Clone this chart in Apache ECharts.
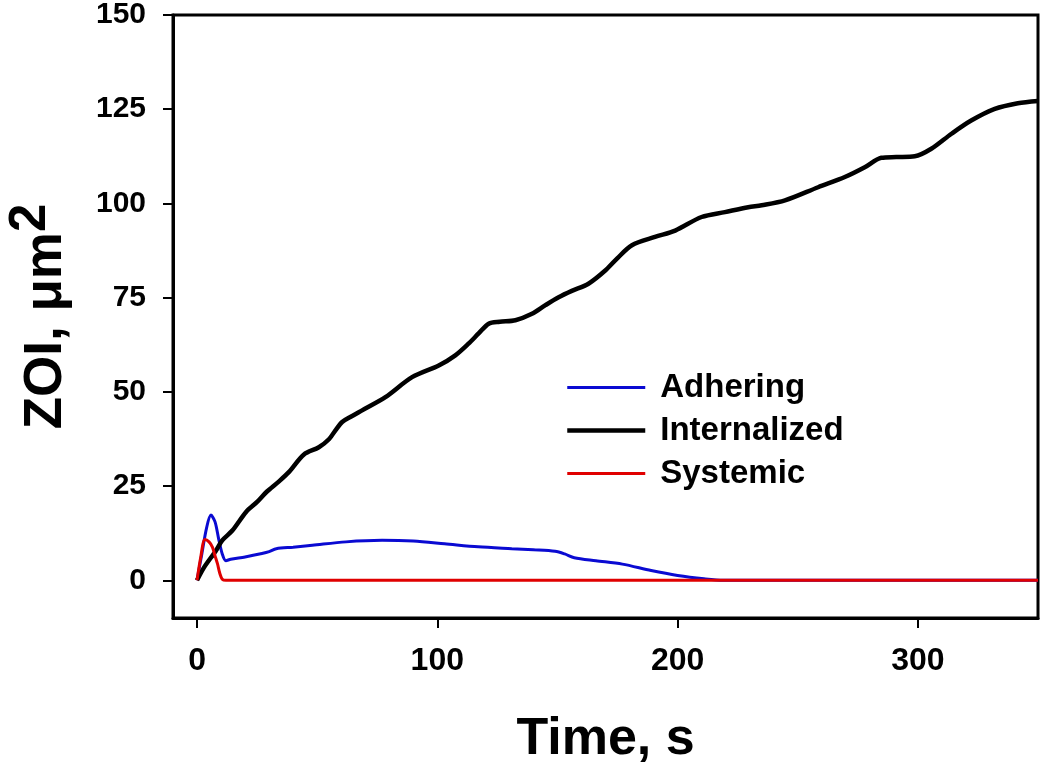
<!DOCTYPE html>
<html>
<head>
<meta charset="utf-8">
<script src="https://cdn.jsdelivr.net/npm/echarts@6/dist/echarts.min.js"></script>
<style>html,body{margin:0;padding:0;background:#fff;}#chart{width:1050px;height:769px;}</style>
</head>
<body>
<div id="chart"></div>
<script>
// ---- data ----
const xTicks = [0, 100, 200, 300];
const yTicks = [0, 25, 50, 75, 100, 125, 150];

const internalizedT = [0, 3, 7.8, 10.5, 14.7, 20.5, 25, 29, 34, 38.2, 44.5, 50.7, 55, 57.6, 60.4, 64, 68.7, 78.4, 89.5, 100.6, 107.5, 113, 117.2, 121.4, 126, 132.5, 139.4, 145, 150.5, 156, 162.9, 169.9, 175, 181, 190.6, 199, 210, 219.7, 229.4, 235, 244.7, 258.5, 269.6, 277.9, 284.8, 291, 298.7, 305.6, 314, 322.2, 332, 341.6, 350];
const internalizedV = [0, 3.5, 7.8, 10.6, 13.2, 18.2, 20.8, 23.5, 26.2, 28.7, 33.4, 35.3, 37.5, 39.8, 42, 43.4, 45.1, 48.6, 53.9, 57, 59.7, 62.8, 65.5, 68.1, 68.6, 69, 70.7, 73, 75.1, 76.8, 78.7, 82.2, 85.5, 88.9, 91.1, 92.8, 96.4, 97.7, 99, 99.5, 100.8, 104.3, 107, 109.6, 112.1, 112.3, 112.5, 114.5, 118.5, 122, 125.1, 126.6, 127.2];

const adheringT = [0, 2, 4, 5.8, 7.5, 9, 10.5, 12, 14, 20, 27, 30, 33, 40, 48, 62, 77, 90, 103, 117, 131, 140, 149, 153, 157, 166, 177, 189, 200, 211, 219, 230, 350];
const adheringV = [0, 7, 14, 17.3, 15.5, 11, 7, 5.2, 5.6, 6.2, 7.1, 7.6, 8.4, 8.8, 9.3, 10.2, 10.6, 10.4, 9.7, 8.9, 8.4, 8.1, 7.7, 7.0, 6.0, 5.2, 4.3, 2.6, 1.3, 0.4, 0, 0, 0];

const systemicT = [0, 1.5, 3.3, 5, 6.4, 7.5, 8.5, 9.5, 10.5, 12, 350];
const systemicV = [0, 6, 10.8, 10.2, 8.8, 6.5, 4.4, 1.8, 0.3, 0, 0];

const seriesNames = ['Adhering', 'Internalized', 'Systemic'];

function pairs(t, v) { return t.map((x, i) => [x, v[i]]); }

const colors = {Adhering: '#0a0ad2', Internalized: '#000000', Systemic: '#e00000'};
const widths = {Adhering: 3, Internalized: 4.5, Systemic: 3};

const chart = echarts.init(document.getElementById('chart'), null, {renderer: 'canvas'});
const axisFont = 'Liberation Sans, Arial, sans-serif';
chart.setOption({
  animation: false,
  backgroundColor: '#fff',
  grid: {left: 173, right: 12, top: 15, bottom: 151, outerBoundsMode: 'none', containLabel: false, show: true, borderColor: '#000', borderWidth: 3, backgroundColor: 'transparent'},
  legend: {
    left: 560, top: 366, orient: 'vertical',
    itemWidth: 78, itemHeight: 14, itemGap: 10,
    itemStyle: {opacity: 0},
    textStyle: {fontFamily: axisFont, fontWeight: 'bold', fontSize: 33, color: '#000', lineHeight: 33, padding: [0, 0, 0, 10]},
    data: seriesNames.map(n => ({name: n, itemStyle: {opacity: 0}, lineStyle: {color: colors[n], width: widths[n]}}))
  },
  xAxis: {
    type: 'value', min: -10, max: 350,
    splitLine: {show: false},
    axisLine: {onZero: false, lineStyle: {color: '#000', width: 3}},
    axisTick: {length: 10, lineStyle: {color: '#000', width: 2}, customValues: xTicks},
    axisLabel: {customValues: xTicks, fontFamily: axisFont, fontWeight: 'bold', fontSize: 32, color: '#000', margin: 27},
    name: 'Time, s', nameLocation: 'middle', nameGap: 96,
    nameTextStyle: {fontFamily: axisFont, fontWeight: 'bold', fontSize: 52, color: '#000'}
  },
  yAxis: {
    type: 'value', min: -10, max: 150,
    splitLine: {show: false},
    axisLine: {onZero: false, lineStyle: {color: '#000', width: 3}},
    axisTick: {length: 10, lineStyle: {color: '#000', width: 2}, customValues: yTicks},
    axisLabel: {customValues: yTicks, fontFamily: axisFont, fontWeight: 'bold', fontSize: 30, color: '#000', margin: 27},
    name: '{a|ZOI, μm}{b|2}', nameLocation: 'middle', nameGap: 100,
    nameTextStyle: {
      rich: {
        a: {fontFamily: axisFont, fontWeight: 'bold', fontSize: 53, color: '#000', lineHeight: 53, verticalAlign: 'bottom'},
        b: {fontFamily: axisFont, fontWeight: 'bold', fontSize: 51, color: '#000', lineHeight: 53, padding: [0, 0, 17, 0], verticalAlign: 'bottom'}
      }
    }
  },
  series: [
    {name: 'Adhering', type: 'line', symbol: 'none', smooth: 0.3, data: pairs(adheringT, adheringV), lineStyle: {color: colors.Adhering, width: widths.Adhering}, itemStyle: {color: colors.Adhering}, z: 2},
    {name: 'Internalized', type: 'line', symbol: 'none', smooth: 0.3, data: pairs(internalizedT, internalizedV), lineStyle: {color: colors.Internalized, width: widths.Internalized}, itemStyle: {color: colors.Internalized}, z: 3},
    {name: 'Systemic', type: 'line', symbol: 'none', smooth: 0.3, data: pairs(systemicT, systemicV), lineStyle: {color: colors.Systemic, width: widths.Systemic}, itemStyle: {color: colors.Systemic}, z: 4}
  ]
});
</script>
</body>
</html>
